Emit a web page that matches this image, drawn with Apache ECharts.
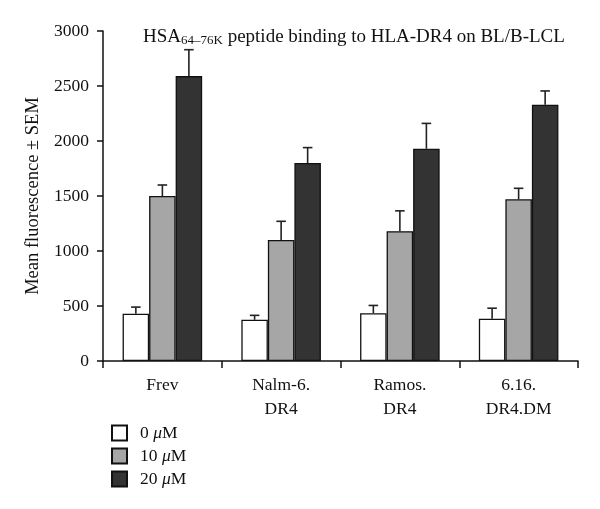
<!DOCTYPE html>
<html><head><meta charset="utf-8">
<script src="https://cdn.jsdelivr.net/npm/echarts@6/dist/echarts.min.js"></script>
<style>html,body{margin:0;padding:0;background:#fff}#c{width:600px;height:509px}</style>
</head><body><div id="c"></div>
<script>
const categories = ['Frev', 'Nalm-6.\nDR4', 'Ramos.\nDR4', '6.16.\nDR4.DM'];
const seriesNames = ['0 μM', '10 μM', '20 μM'];
const values0 = [430, 375, 435, 385];
const values10 = [1500, 1100, 1180, 1470];
const values20 = [2590, 1800, 1930, 2330];
const sem0 = [60, 40, 70, 95];
const sem10 = [100, 170, 185, 100];
const sem20 = [240, 140, 230, 125];
const yTicks = [0, 500, 1000, 1500, 2000, 2500, 3000];

const values = [values0, values10, values20];
const sems = [sem0, sem10, sem20];
const colors = ['#ffffff', '#a6a6a6', '#333333'];
const serif = 'Liberation Serif';
const catGap = 0.33;
const fs = 17.5;

const chart = echarts.init(document.getElementById('c'));
const series = [];
values.forEach((v, i) => {
  series.push({
    name: seriesNames[i], type: 'bar', data: v,
    barGap: '0%', barCategoryGap: (catGap * 100) + '%',
    itemStyle: { color: colors[i], borderColor: '#111', borderWidth: 1.3 },
    animation: false
  });
});
values.forEach((v, i) => {
  series.push({
    type: 'custom', name: seriesNames[i] + ' err', silent: true, animation: false,
    data: v.map((val, k) => [k, val, val + sems[i][k]]),
    renderItem: function (params, api) {
      const band = api.size([1, 0])[0];
      const bw = band * (1 - catGap) / 3;
      const base = api.coord([api.value(0), api.value(1)]);
      const top = api.coord([api.value(0), api.value(2)]);
      const x = base[0] + (i - 1) * bw;
      const cap = bw * 0.36;
      const st = { stroke: '#222', lineWidth: 1.6 };
      return { type: 'group', children: [
        { type: 'line', shape: { x1: x, y1: base[1], x2: x, y2: top[1] }, style: st },
        { type: 'line', shape: { x1: x - cap / 2, y1: top[1], x2: x + cap / 2, y2: top[1] }, style: st }
      ]};
    },
    z: 1
  });
});

chart.setOption({
  animation: false,
  title: {
    text: '{n|HSA}{s|64–76K}{n| peptide binding to HLA-DR4 on BL/B-LCL}',
    left: 138, top: 21,
    textStyle: {
      fontWeight: 'normal',
      rich: {
        n: { fontFamily: serif, fontSize: 19, fontWeight: 'normal', color: '#111', lineHeight: 22 },
        s: { fontFamily: serif, fontSize: 13, fontWeight: 'normal', color: '#111', padding: [8, 0, 0, 0], lineHeight: 22 }
      }
    }
  },
  legend: {
    data: seriesNames, orient: 'vertical', left: 106, top: 419,
    icon: 'rect', itemWidth: 15, itemHeight: 15, itemGap: 5,
    formatter: function (name) { const p = name.split(' '); return '{a|' + p[0] + ' }{i|μ}{a|M}'; },
    textStyle: {
      padding: [0, 0, 0, 8],
      rich: {
        a: { fontFamily: serif, fontSize: fs, color: '#111', lineHeight: 17 },
        i: { fontFamily: serif, fontSize: fs, fontStyle: 'italic', color: '#111', lineHeight: 17 }
      }
    }
  },
  grid: { left: 103, right: 22, top: 31, bottom: 148, containLabel: false },
  xAxis: {
    type: 'category', data: categories,
    axisLine: { lineStyle: { color: '#111', width: 1.5 } },
    axisTick: { show: true, length: 7, lineStyle: { color: '#111', width: 1.5 } },
    axisLabel: { fontFamily: serif, fontSize: fs, color: '#111', lineHeight: 24, margin: 12 }
  },
  yAxis: {
    type: 'value', min: 0, max: 3000, interval: 500,
    name: 'Mean fluorescence ± SEM', nameLocation: 'middle', nameGap: 59,
    nameTextStyle: { fontFamily: serif, fontSize: 18.5, color: '#111' },
    splitLine: { show: false },
    axisLine: { show: true, lineStyle: { color: '#111', width: 1.5 } },
    axisTick: { show: true, length: 6, lineStyle: { color: '#111', width: 1.5 } },
    axisLabel: { fontFamily: serif, fontSize: fs, color: '#111', margin: 14,
      formatter: function (v) { return yTicks.indexOf(v) >= 0 ? String(v) : ''; } }
  },
  series: series
});
</script></body></html>
